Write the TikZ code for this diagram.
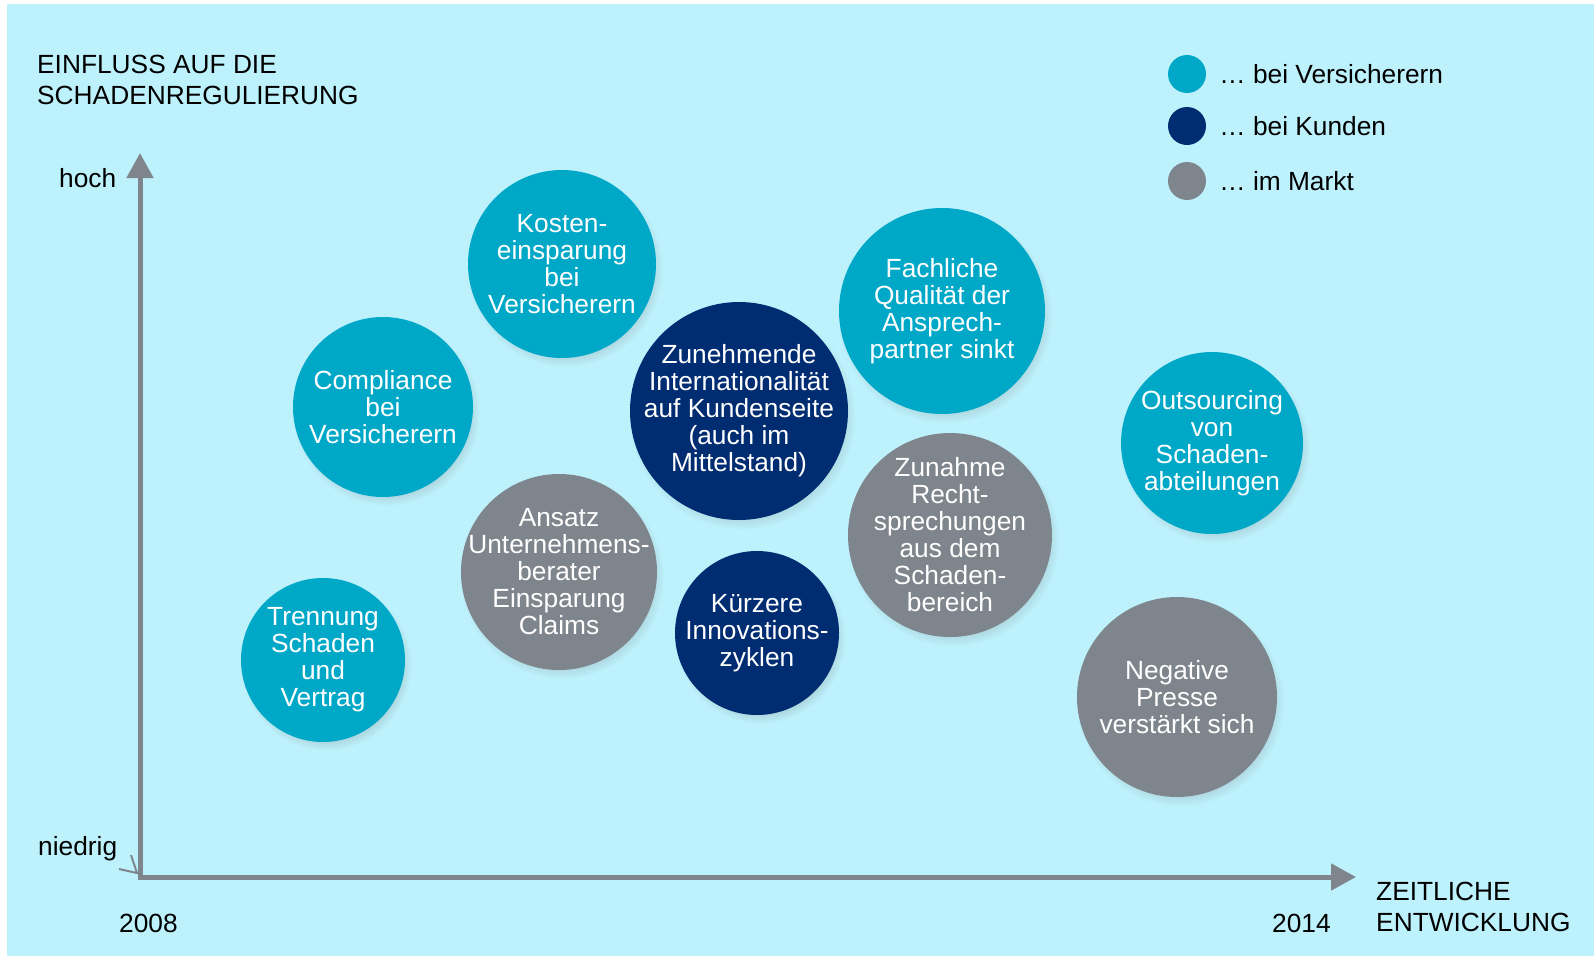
\documentclass[tikz,border=0pt]{standalone}
\usepackage{fontspec}
\setmainfont{Liberation Sans}
\usetikzlibrary{positioning,arrows.meta,shadows,calc}
\definecolor{fondo}{HTML}{BDF2FD}
\definecolor{versblue}{HTML}{00A8C8}
\definecolor{kundblue}{HTML}{002D72}
\definecolor{marktgrey}{HTML}{7F858C}

\begin{document}
\begin{tikzpicture}[x=1pt, y=-1pt, inner sep=0pt,
            font=\fontsize{26.3}{31.5}\selectfont,
            bubble/.style ={circle, text=white, align=center, minimum size=2*#1pt, inner sep=-40pt,
            font=\fontsize{26.3}{27}\selectfont,
            circular drop shadow={shadow xshift=3pt, shadow yshift=-5pt, shadow scale=1.04, opacity=0.3}},
            vers/.style ={bubble=#1, fill=versblue},
            kund/.style ={bubble=#1, fill=kundblue},
            markt/.style ={bubble=#1, fill=marktgrey},
            punto/.style ={circle, minimum size=38pt},
            rotulo/.style ={anchor=west, text=black, align=left},
            eje/.style ={draw=marktgrey, line width=5pt, line cap=rect, -{Triangle[width=26pt,length=25pt]}}]

        % fondo
        \useasboundingbox (0,0) rectangle (1594,956);
        \fill[white] (0,0) rectangle (1594,956);
        \fill[fondo] (7,4) rectangle (1594,956);

        % ejes
        \coordinate (O) at (140,877);
        \coordinate (Y) at (140,153);
        \coordinate (X) at (1356,877);
        \draw[eje] (O) -- (Y);
        \draw[eje] (O) -- (X);
        \draw[marktgrey, line width=2pt] ($(O)+(-21,-8)$) -- ($(O)+(-3,-4)$) -- ($(O)+(-9,-22)$);

        \node[rotulo] (titY) at (37,80) {EINFLUSS AUF DIE\\SCHADENREGULIERUNG};
        \node[rotulo] (hoch) at (59,178) {hoch};
        \node[rotulo] (niedrig) at (38,849) {niedrig};
        \node[rotulo] (a2008) at (119,923) {2008};
        \node[rotulo] (a2014) at (1272,923) {2014};
        \node[rotulo] (titX) at (1376,907) {ZEITLICHE\\ENTWICKLUNG};

        % leyenda
        \node[punto, fill=versblue] (L1) at (1187,74) {};
        \node[punto, fill=kundblue] (L2) at (1187,126) {};
        \node[punto, fill=marktgrey] (L3) at (1187,181) {};
        \node[rotulo, right=13pt of L1] (T1) {… bei Versicherern};
        \node[rotulo, right=13pt of L2] (T2) {… bei Kunden};
        \node[rotulo, right=13pt of L3] (T3) {… im Markt};

        % burbujas
        \node[vers=94] (A) at (562,264) {Kosten-\\einsparung\\bei\\Versicherern};
        \node[vers=90] (B) at (383,407) {Compliance\\bei\\Versicherern};
        \node[kund=109] (C) at (739,411) {Zunehmende\\Internationalität\\auf Kundenseite\\(auch im\\Mittelstand)};
        \node[vers=103] (D) at (942,311) {Fachliche\\Qualität der\\Ansprech-\\partner sinkt};
        \node[vers=91] (E) at (1212,443) {Outsourcing\\von\\Schaden-\\abteilungen};
        \node[markt=98] (F) at (559,572) {Ansatz\\Unternehmens-\\berater\\Einsparung\\Claims};
        \node[markt=102] (G) at (950,535) {Zunahme\\Recht-\\sprechungen\\aus dem\\Schaden-\\bereich};
        \node[kund=82] (H) at (757,633) {Kürzere\\Innovations-\\zyklen};
        \node[vers=82] (I) at (323,660) {Trennung\\Schaden\\und\\Vertrag};
        \node[markt=100] (J) at (1177,697) {Negative\\Presse\\verstärkt sich};

    \end{tikzpicture}
\end{document}
